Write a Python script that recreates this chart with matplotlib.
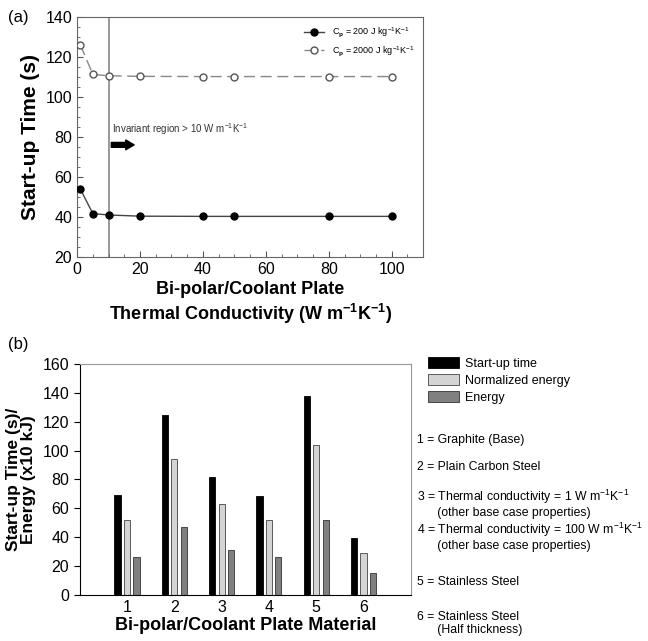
import matplotlib.pyplot as plt
import numpy as np

plt.rcParams['font.family'] = ['Liberation Sans', 'DejaVu Sans']
plt.rcParams['mathtext.fontset'] = 'custom'
plt.rcParams['mathtext.rm'] = 'Liberation Sans'
plt.rcParams['mathtext.it'] = 'Liberation Sans:italic'
plt.rcParams['mathtext.bf'] = 'Liberation Sans:bold'

# Panel (a) data
k_vals = [1, 5, 10, 20, 40, 50, 80, 100]
t_cp200 = [54, 41.7, 41, 40.4, 40.3, 40.3, 40.3, 40.3]
t_cp2000 = [126, 111.2, 110.5, 110.2, 110.1, 110.1, 110.1, 110.1]

# Panel (b) data
materials = [1, 2, 3, 4, 5, 6]
startup_time = [69, 125, 82, 68.5, 138, 39.5]
norm_energy = [52, 94, 63, 52, 104, 29]
energy = [26, 47, 31, 26, 52, 15]

descriptions = [
    "1 = Graphite (Base)",
    "2 = Plain Carbon Steel",
    "3 = Thermal conductivity = 1 W m$^{\\mathrm{-1}}$K$^{\\mathrm{-1}}$\n      (other base case properties)",
    "4 = Thermal conductivity = 100 W m$^{\\mathrm{-1}}$K$^{\\mathrm{-1}}$\n      (other base case properties)",
    "5 = Stainless Steel",
    "6 = Stainless Steel\n      (Half thickness)",
]

fig = plt.figure(figsize=(6.48, 6.41), dpi=100)

# --- (a) ---
ax1 = fig.add_axes([0.119, 0.599, 0.534, 0.375])
ax1.axvline(10, color='#888888', lw=1.2, zorder=1)
ax1.plot(k_vals, t_cp200, '-o', color='#444444', mfc='black', mec='black',
         ms=5, lw=1, label='C$_\\mathbf{p}$ = 200 J kg$^{\\mathrm{-1}}$K$^{\\mathrm{-1}}$', zorder=3)
ax1.plot(k_vals, t_cp2000, '--o', color='#888888', mfc='white', mec='#555555',
         ms=5, lw=1, dashes=(8, 4), label='C$_\\mathbf{p}$ = 2000 J kg$^{\\mathrm{-1}}$K$^{\\mathrm{-1}}$', zorder=3)
ax1.set_xlim(0, 110)
ax1.set_ylim(20, 140)
ax1.set_xticks(range(0, 101, 20))
ax1.set_yticks(range(20, 141, 20))
ax1.set_xticks(range(0, 111, 5), minor=True)
ax1.set_yticks(range(20, 141, 5), minor=True)
ax1.tick_params(direction='in', labelsize=11.5, length=4, color='#555555')
ax1.tick_params(which='minor', direction='in', length=2, color='#555555')
for s in ax1.spines.values():
    s.set_color('#666666')
ax1.set_ylabel('Start-up Time (s)', fontsize=15, fontweight='bold', labelpad=4)
ax1.set_xlabel('Bi-polar/Coolant Plate\nThermal Conductivity (W m$^{\\mathbf{-1}}$K$^{\\mathbf{-1}}$)',
               fontsize=13, fontweight='bold', labelpad=3)
ax1.text(11, 82, 'Invariant region > 10 W m$^{\\mathrm{-1}}$K$^{\\mathrm{-1}}$', fontsize=7, color='#333333')
ax1.annotate('', xy=(19, 76), xytext=(10, 76),
             arrowprops=dict(arrowstyle='simple,head_width=0.7,head_length=0.6,tail_width=0.35',
                             color='black'))
ax1.legend(loc='upper right', frameon=False, fontsize=6.5, handlelength=2.2,
           borderaxespad=0.6, labelspacing=0.5)
fig.text(0.012, 0.965, '(a)', fontsize=12)

# --- (b) ---
ax2 = fig.add_axes([0.123, 0.072, 0.511, 0.36])
x = np.array(materials)
w = 0.13
ax2.bar(x - 0.2, startup_time, w, color='black', edgecolor='black', lw=0.6, label='Start-up time')
ax2.bar(x, norm_energy, w, color='#d4d4d4', edgecolor='#444444', lw=0.6, label='Normalized energy')
ax2.bar(x + 0.2, energy, w, color='#808080', edgecolor='#333333', lw=0.6, label='Energy')
ax2.set_xlim(0, 7)
ax2.set_ylim(0, 160)
ax2.set_xticks(materials)
ax2.set_yticks(range(0, 161, 20))
ax2.tick_params(axis='x', length=0, labelsize=11.5)
ax2.tick_params(axis='y', direction='out', length=4, labelsize=11.5)
ax2.spines['top'].set_color('#999999')
ax2.spines['right'].set_color('#999999')
ax2.set_ylabel('Start-up Time (s)/\nEnergy (x10 kJ)', fontsize=12.5, fontweight='bold',
               labelpad=5, linespacing=1.0)
ax2.set_xlabel('Bi-polar/Coolant Plate Material', fontsize=13, fontweight='bold', labelpad=2)
fig.text(0.012, 0.455, '(b)', fontsize=12)

fig.legend(*ax2.get_legend_handles_labels(), loc='upper left', bbox_to_anchor=(0.643, 0.46),
           frameon=False, fontsize=9, handlelength=2.5, handleheight=0.9,
           labelspacing=0.35, handletextpad=0.5)

y_pos = [0.3136, 0.2715, 0.2145, 0.163, 0.092, 0.027]
for yy, txt in zip(y_pos, descriptions):
    fig.text(0.643, yy, txt, fontsize=8.8, va='center', linespacing=1.05)

fig.savefig('out.png', dpi=100)
